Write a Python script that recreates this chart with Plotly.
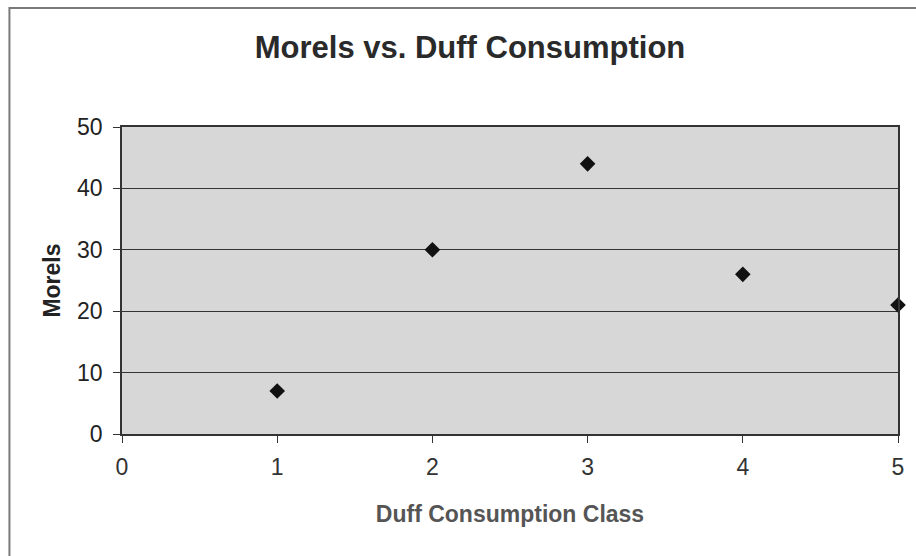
import plotly.graph_objects as go

# Data
duff_class = [1, 2, 3, 4, 5]
morels = [7, 30, 44, 26, 21]
x_ticks = [0, 1, 2, 3, 4, 5]
y_ticks = [0, 10, 20, 30, 40, 50]

W, H = 916, 556
L, R, T, B = 122, 15, 127, 122
pw, ph = W - L - R, H - T - B

def px_x(p):
    return (p - L) / pw

def px_y(p):
    return (H - B - p) / ph

FONT = "Liberation Sans, Arial, sans-serif"

fig = go.Figure()
fig.add_trace(go.Scatter(
    x=duff_class, y=morels, mode="markers",
    marker=dict(symbol="diamond", size=12, color="#111111"),
    cliponaxis=False, showlegend=False,
))

fig.update_layout(
    width=W, height=H,
    margin=dict(l=L, r=R, t=T, b=B),
    paper_bgcolor="white",
    plot_bgcolor="#d7d7d7",
    title=dict(text="<b>Morels vs. Duff Consumption</b>",
               font=dict(family=FONT, size=31, color="#2a2a2a"),
               x=470 / W, xanchor="center", xref="container",
               y=1 - 47 / H, yanchor="middle", yref="container"),
    shapes=[dict(type="rect", xref="paper", yref="paper",
                 x0=px_x(9), x1=px_x(940), y0=px_y(580), y1=px_y(8),
                 line=dict(color="#7a7a7a", width=2), fillcolor="rgba(0,0,0,0)",
                 layer="below")],
)

fig.update_xaxes(
    range=[0, 5], tickvals=x_ticks, ticktext=[str(v) for v in x_ticks],
    showgrid=False, zeroline=False,
    showline=True, linecolor="#333333", linewidth=1.5, mirror=True,
    ticks="outside", ticklen=7, tickcolor="#333333", tickwidth=1,
    ticklabelstandoff=5,
    tickfont=dict(family=FONT, size=23, color="#333333"),
    title=dict(text="<b>Duff Consumption Class</b>", standoff=27,
               font=dict(family=FONT, size=23, color="#555555")),
)
fig.update_yaxes(
    range=[0, 50], tickvals=y_ticks, ticktext=[str(v) for v in y_ticks],
    showgrid=True, gridcolor="#333333", gridwidth=1, zeroline=False,
    showline=True, linecolor="#333333", linewidth=1.5, mirror=True,
    ticks="outside", ticklen=7, tickcolor="#333333", tickwidth=1,
    ticklabelstandoff=6,
    tickfont=dict(family=FONT, size=23, color="#222222"),
    title=dict(text="<b>Morels</b>", standoff=10,
               font=dict(family=FONT, size=23, color="#222222")),
)

fig.write_html(
    "out.html",
    config={"displayModeBar": False},
    post_script="document.body.style.margin='0';document.body.style.padding='0';document.body.style.overflow='hidden';",
)
